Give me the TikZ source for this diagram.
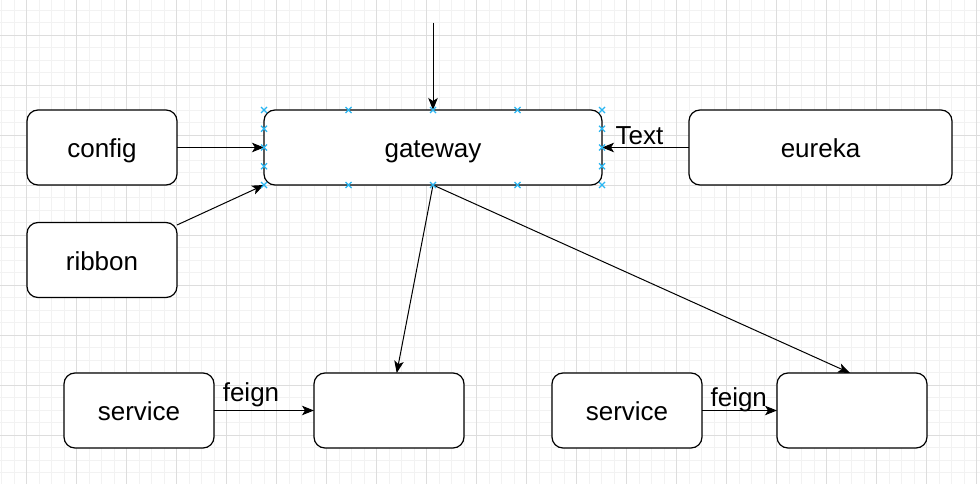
\documentclass[tikz,border=0pt]{standalone}
\usepackage{fontspec}
\setmainfont{Liberation Sans}
\usetikzlibrary{arrows.meta}
\definecolor{minorgrid}{RGB}{242,242,242}
\definecolor{majorgrid}{RGB}{221,221,221}
\definecolor{handle}{RGB}{41,182,242}
\tikzset{
  box/.style={draw=black, line width=1.2pt, rounded corners=11pt, fill=white,
    minimum width=150pt, minimum height=75pt, inner sep=0pt, outer sep=0pt,
    font=\fontsize{26}{30}\selectfont, text height=20pt, text depth=0pt},
  edge/.style={draw=black, line width=1pt, -{Stealth[length=12pt,width=9.5pt,inset=3pt]}},
  lbl/.style={font=\fontsize{26}{30}\selectfont, inner sep=0pt, anchor=base},
  minorline/.style={draw=minorgrid, line width=0.8pt},
  majorline/.style={draw=majorgrid, line width=0.8pt},
  hmark/.style={draw=handle, line width=1.1pt}
}
\begin{document}
\begin{tikzpicture}[x=1pt,y=-1pt]
\fill[white] (0,0) rectangle (980,484);
\useasboundingbox (0,0) rectangle (980,484);
% grid
\foreach \i in {0,...,78} {\draw[minorline] ({1.7+12.5*\i},0) -- ({1.7+12.5*\i},484);}
\foreach \i in {0,...,38} {\draw[minorline] (0,{10+12.5*\i}) -- (980,{10+12.5*\i});}
\foreach \i in {0,...,19} {\draw[majorline] ({26.7+50*\i},0) -- ({26.7+50*\i},484);}
\foreach \i in {0,...,8} {\draw[majorline] (0,{35+50*\i}) -- (980,{35+50*\i});}
% nodes
\node[box] (config) at (102,147.5) {config};
\node[box] (ribbon) at (102,260) {ribbon};
\node[box, minimum width=338pt] (gw) at (433,147.5) {gateway};
\node[box, minimum width=263pt] (eureka) at (820.5,147.5) {eureka};
\node[box] (svc1) at (139,410.5) {service};
\node[box] (tgt1) at (389,410.5) {};
\node[box] (svc2) at (627,410.5) {service};
\node[box] (tgt2) at (852,410.5) {};
\coordinate (top) at (433,22.7);
% edges
\draw[edge] (top) -- (gw.north);
\draw[edge] (config.east) -- (gw.west);
\draw[edge] ([yshift=-2.5pt]ribbon.north east) -- (gw.south west);
\draw[edge] (eureka.west) -- node[lbl, pos=0.57, yshift=3pt] (tlabel) {Text} (gw.east);
\draw[edge] (gw.south) -- ([xshift=7.7pt]tgt1.north);
\draw[edge] (gw.south) -- ([xshift=-2pt]tgt2.north);
\draw[edge] (svc1.east) -- node[lbl, pos=0.37, yshift=9.5pt] (f1) {feign} (tgt1.west);
\draw[edge] (svc2.east) -- node[lbl, pos=0.49, yshift=3.8pt] (f2) {feign} (tgt2.west);
% selection handles
\foreach \px/\py in {264/110,348.5/110,433/110,517.5/110,602/110,
                     264/185,348.5/185,433/185,517.5/185,602/185,
                     264/128.75,264/147.5,264/166.25,
                     602/128.75,602/147.5,602/166.25} {
  \draw[hmark] (\px-3,\py-3) -- (\px+3,\py+3) (\px-3,\py+3) -- (\px+3,\py-3);
}
\end{tikzpicture}
\end{document}
